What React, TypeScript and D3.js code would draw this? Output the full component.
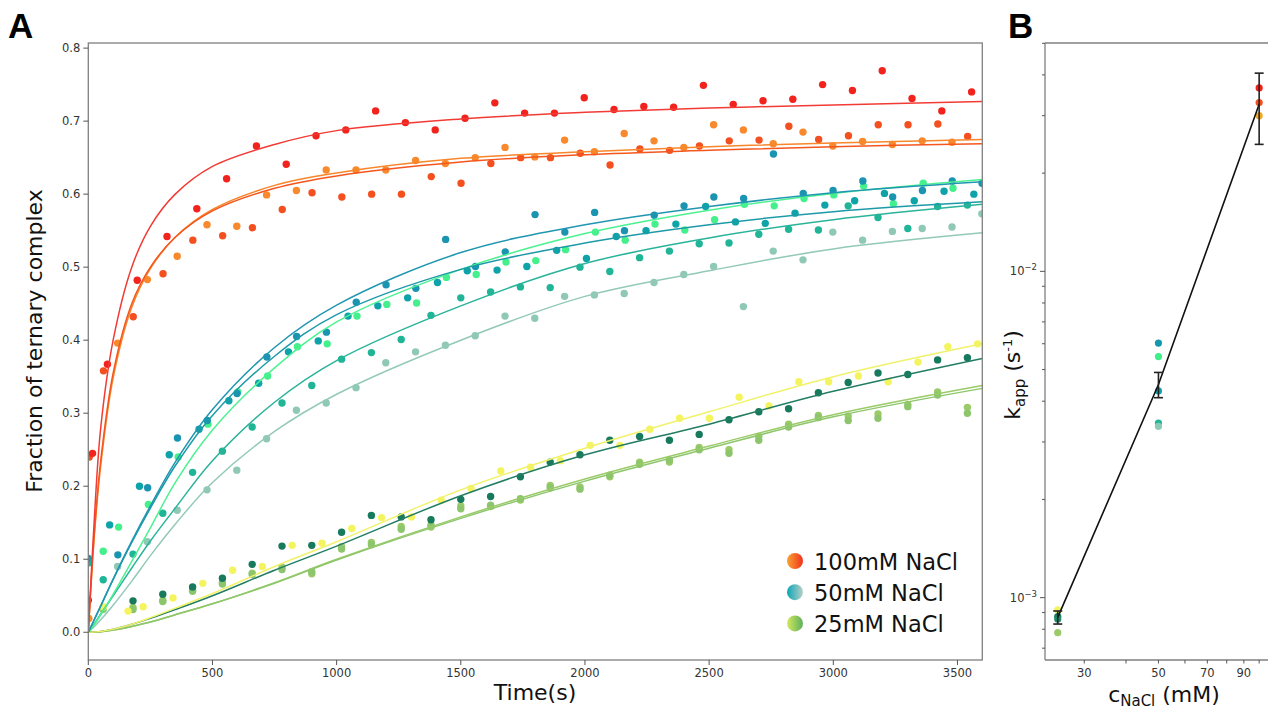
import React from 'react';
import * as d3 from 'd3';

const WIDTH = 1268;
const HEIGHT = 711;
const FONT = 'DejaVu Sans, Verdana, sans-serif';

// readings every 120 s after the first ones
const STEP = 120;

// knot times (s) of the fitted curves
const fitTimes = [0, 25, 50, 100, 175, 250, 350, 500, 750, 1000, 1500, 2000, 2500, 3000, 3600];

// ---- 100 mM NaCl ----
const red100Early = [[17, 0.245]];
const red100Start = 77;
const red100 = [0.367, 0.482, 0.542, 0.580, 0.621, 0.666, 0.641, 0.680, 0.688, 0.714, 0.698, 0.688, 0.704, 0.725, 0.711,
  0.711, 0.732, 0.716, 0.720, 0.719, 0.749, 0.723, 0.728, 0.730, 0.750, 0.742, 0.769, 0.731, 0.714, 0.740];
const red100Fit = [0, 0.16, 0.28, 0.40, 0.50, 0.556, 0.600, 0.638, 0.668, 0.687, 0.703, 0.712, 0.718, 0.722, 0.727];

const ored100Early = [[4, 0.240]];
const ored100Start = 61;
const ored100 = [0.358, 0.432, 0.491, 0.537, 0.543, 0.554, 0.579, 0.602, 0.596, 0.600, 0.600, 0.624, 0.615, 0.642, 0.650,
  0.650, 0.656, 0.640, 0.662, 0.660, 0.666, 0.673, 0.674, 0.693, 0.675, 0.680, 0.695, 0.695, 0.696, 0.679];
const ored100Fit = [0, 0.14, 0.235, 0.355, 0.45, 0.50, 0.541, 0.577, 0.608, 0.625, 0.644, 0.654, 0.660, 0.665, 0.669];

const orange100Early = [[2, 0.019]];
const orange100Start = 118;
const orange100 = [0.396, 0.483, 0.515, 0.558, 0.556, 0.599, 0.605, 0.633, 0.633, 0.633, 0.646, 0.642, 0.650, 0.664, 0.651,
  0.674, 0.658, 0.683, 0.673, 0.664, 0.695, 0.688, 0.669, 0.685, 0.666, 0.672, 0.668, 0.673, 0.671];
const orange100Fit = [0, 0.135, 0.228, 0.348, 0.445, 0.498, 0.541, 0.579, 0.612, 0.629, 0.649, 0.658, 0.665, 0.670, 0.675];

// ---- 50 mM NaCl ----
const blueA50Early: number[][] = [];
const blueA50Start = 119;
const blueA50 = [0.106, 0.198, 0.266, 0.290, 0.327, 0.377, 0.405, 0.411, 0.452, 0.476, 0.471, 0.538, 0.501, 0.521, 0.572,
  0.548, 0.575, 0.550, 0.571, 0.584, 0.596, 0.594, 0.655, 0.601, 0.605, 0.618, 0.596, 0.605, 0.618, 0.615];
const blueA50Fit = [0, 0.018, 0.036, 0.073, 0.125, 0.173, 0.233, 0.305, 0.39, 0.448, 0.52, 0.558, 0.583, 0.602, 0.617];

const blueB50Early = [[0, 0.101]];
const blueB50Start = 86;
const blueB50 = [0.147, 0.200, 0.243, 0.278, 0.317, 0.341, 0.384, 0.399, 0.433, 0.447, 0.458, 0.479, 0.495, 0.496, 0.501,
  0.523, 0.512, 0.542, 0.550, 0.559, 0.583, 0.562, 0.560, 0.574, 0.585, 0.591, 0.601, 0.591, 0.604, 0.600];
const blueB50Fit = [0, 0.018, 0.036, 0.072, 0.123, 0.17, 0.228, 0.297, 0.378, 0.435, 0.497, 0.533, 0.558, 0.576, 0.5895];

const green50Early = [[60, 0.111]];
const green50Start = 122;
const green50 = [0.144, 0.175, 0.240, 0.285, 0.329, 0.351, 0.391, 0.395, 0.433, 0.449, 0.451, 0.486, 0.490, 0.507, 0.509,
  0.524, 0.548, 0.537, 0.559, 0.551, 0.565, 0.586, 0.584, 0.594, 0.599, 0.611, 0.587, 0.615, 0.608];
const green50Fit = [0, 0.011, 0.024, 0.052, 0.097, 0.143, 0.205, 0.277, 0.362, 0.425, 0.497, 0.546, 0.578, 0.601, 0.620];

const teal50Early = [[0, 0.095]];
const teal50Start = 60;
const teal50 = [0.072, 0.107, 0.163, 0.219, 0.248, 0.281, 0.314, 0.338, 0.374, 0.383, 0.401, 0.434, 0.458, 0.466, 0.473,
  0.472, 0.500, 0.494, 0.513, 0.522, 0.532, 0.533, 0.545, 0.552, 0.551, 0.584, 0.568, 0.553, 0.583, 0.585];
const teal50Fit = [0, 0.012, 0.025, 0.05, 0.088, 0.125, 0.17, 0.235, 0.315, 0.372, 0.447, 0.505, 0.54, 0.565, 0.586];

const pale50Early: number[][] = [];
const pale50Start = 118;
const pale50 = [0.090, 0.124, 0.167, 0.195, 0.222, 0.265, 0.304, 0.314, 0.335, 0.369, 0.384, 0.393, 0.406, 0.433, 0.430,
  0.460, 0.462, 0.464, 0.479, 0.490, 0.501, 0.446, 0.522, 0.510, 0.548, 0.537, 0.549, 0.553, 0.555, 0.573];
const pale50Fit = [0, 0.008, 0.017, 0.037, 0.07, 0.105, 0.148, 0.205, 0.275, 0.326, 0.40, 0.46, 0.495, 0.525, 0.547];

// ---- 25 mM NaCl ----
const yellow25Early = [[60, 0.035], [160, 0.029]];
const yellow25Start = 221;
const yellow25 = [0.035, 0.047, 0.067, 0.085, 0.090, 0.119, 0.122, 0.142, 0.157, 0.158, 0.181, 0.197, 0.221, 0.226, 0.235,
  0.256, 0.256, 0.278, 0.293, 0.293, 0.322, 0.310, 0.343, 0.343, 0.351, 0.343, 0.370, 0.391, 0.395];
const yellow25Fit = [0, 0.0003, 0.001, 0.004, 0.011, 0.02, 0.033, 0.053, 0.09, 0.124, 0.195, 0.252, 0.302, 0.35, 0.395];

const dark25Early = [[0, 0.044]];
const dark25Start = 180;
const dark25 = [0.043, 0.052, 0.062, 0.074, 0.093, 0.118, 0.119, 0.137, 0.160, 0.158, 0.154, 0.182, 0.186, 0.213, 0.233,
  0.243, 0.263, 0.268, 0.263, 0.271, 0.291, 0.302, 0.306, 0.328, 0.342, 0.355, 0.353, 0.373, 0.376];
const dark25Fit = [0, 0.0003, 0.001, 0.004, 0.011, 0.019, 0.031, 0.05, 0.085, 0.118, 0.187, 0.243, 0.285, 0.33, 0.375];

const lime25Early = [[60, 0.031]];
const lime25Start = 180;
const lime25 = [0.034, 0.044, 0.058, 0.068, 0.081, 0.089, 0.080, 0.117, 0.123, 0.145, 0.144, 0.173, 0.172, 0.181, 0.201,
  0.199, 0.213, 0.233, 0.233, 0.253, 0.250, 0.268, 0.285, 0.297, 0.296, 0.299, 0.312, 0.329, 0.308];
const lime25Fit = [0, 0.0002, 0.0008, 0.003, 0.008, 0.014, 0.024, 0.039, 0.068, 0.1, 0.158, 0.21, 0.255, 0.298, 0.338];

const sage25Early: number[][] = [];
const sage25Start = 180;
const sage25 = [0.031, 0.042, 0.056, 0.066, 0.079, 0.086, 0.083, 0.114, 0.120, 0.141, 0.147, 0.169, 0.174, 0.183, 0.198,
  0.196, 0.215, 0.230, 0.236, 0.250, 0.245, 0.263, 0.281, 0.294, 0.290, 0.293, 0.309, 0.325, 0.300];
const sage25Fit = [0, 0.0002, 0.0008, 0.003, 0.008, 0.014, 0.024, 0.039, 0.067, 0.099, 0.156, 0.207, 0.252, 0.295, 0.334];

// legend
const legendLabels = ['100mM NaCl', '50mM NaCl', '25mM NaCl'];
const legendStops = [['#f9a332', '#f0321e'], ['#0aa7b8', '#b8cfc6'], ['#d3e95e', '#5caf5c']];

// ---- panel B: apparent rates ----
const saltConc = [25, 50, 100];
const kMean = [0.00087, 0.0045, 0.0325];
const kErr = [0.00004, 0.0004, 0.008];
const kRuns25 = [0.000917, 0.000875, 0.000781, 0.00086];
const kRuns50 = [0.00603, 0.00548, 0.0043, 0.00343, 0.00335];
const kRuns100 = [0.0365, 0.0329, 0.0300];
const kColors25 = ['#f2f55c', '#177a5c', '#9acb68', '#1e8a6a'];
const kColors50 = ['#1597ae', '#3ff08a', '#0ea3a8', '#21b597', '#8fc9b5'];
const kColors100 = ['#f2221c', '#f4501f', '#f2a822'];

const xTicksA = [0, 500, 1000, 1500, 2000, 2500, 3000, 3500];
const yTicksA = [0, 0.1, 0.2, 0.3, 0.4, 0.5, 0.6, 0.7, 0.8];
const xTicksB = [30, 40, 50, 60, 70, 80, 90, 100];
const xLabelsB = [30, 50, 70, 90];

type Series = { dot: string; line: string; early: number[][]; start: number; values: number[]; fit: number[] };

const seriesA: Series[] = [
  { dot: '#9acb68', line: '#9acb68', early: lime25Early, start: lime25Start, values: lime25, fit: lime25Fit },
  { dot: '#8cc56c', line: '#8ec66c', early: sage25Early, start: sage25Start, values: sage25, fit: sage25Fit },
  { dot: '#177a5c', line: '#227d62', early: dark25Early, start: dark25Start, values: dark25, fit: dark25Fit },
  { dot: '#f4f45e', line: '#f1f26a', early: yellow25Early, start: yellow25Start, values: yellow25, fit: yellow25Fit },
  { dot: '#8fc9b5', line: '#93c9b8', early: pale50Early, start: pale50Start, values: pale50, fit: pale50Fit },
  { dot: '#21b597', line: '#2ab39a', early: teal50Early, start: teal50Start, values: teal50, fit: teal50Fit },
  { dot: '#44f08c', line: '#4cf291', early: green50Early, start: green50Start, values: green50, fit: green50Fit },
  { dot: '#0ea3a8', line: '#1d9aa8', early: blueB50Early, start: blueB50Start, values: blueB50, fit: blueB50Fit },
  { dot: '#1a94b0', line: '#2196b0', early: blueA50Early, start: blueA50Start, values: blueA50, fit: blueA50Fit },
  { dot: '#f8892c', line: '#f8862a', early: orange100Early, start: orange100Start, values: orange100, fit: orange100Fit },
  { dot: '#f4501f', line: '#f5561e', early: ored100Early, start: ored100Start, values: ored100, fit: ored100Fit },
  { dot: '#f2221c', line: '#f23b35', early: red100Early, start: red100Start, values: red100, fit: red100Fit },
];

const xA = d3.scaleLinear().domain([0, 3600]).range([88.3, 982.3]);
const yA = d3.scaleLinear().domain([-0.038, 0.807]).range([660, 43]);
const xB = d3.scaleLog().domain([22.9, 110]).range([1045, 1273]);
const yB = d3.scaleLog().domain([0.000644, 0.0501]).range([660, 43]);

const fitPath = d3.line<number>()
  .x((_, i) => xA(fitTimes[i]))
  .y(v => yA(v))
  .curve(d3.curveCatmullRom.alpha(0.5));

const meanPath = d3.line<number>()
  .x((_, i) => xB(saltConc[i]))
  .y(v => yB(v));

function readings(s: Series) {
  const pts = s.early.map(([t, v]) => [t, v]);
  s.values.forEach((v, i) => pts.push([s.start + STEP * i, v]));
  return pts;
}

const tickColor = '#555';
const labelColor = '#333';
const frameColor = '#7f7f7f';

export default function App() {
  const [aL, aR] = xA.range();
  const [aB, aT] = yA.range();
  const bL = 1045;
  const runsB = [
    { c: saltConc[0], vals: kRuns25, cols: kColors25 },
    { c: saltConc[1], vals: kRuns50, cols: kColors50 },
    { c: saltConc[2], vals: kRuns100, cols: kColors100 },
  ];
  const yMinorB = yB.ticks().filter(t => t >= 0.000644 && t <= 0.0501);

  return (
    <svg width={WIDTH} height={HEIGHT} style={{ position: 'absolute', left: 0, top: 0, background: '#fff' }}
      fontFamily={FONT}>
      <defs>
        <clipPath id="clipA"><rect x={aL} y={aT} width={aR - aL} height={aB - aT} /></clipPath>
        {legendStops.map((s, i) => (
          <linearGradient key={i} id={`lg${i}`} x1="0" x2="1" y1="0" y2="0">
            <stop offset="0" stopColor={s[0]} />
            <stop offset="1" stopColor={s[1]} />
          </linearGradient>
        ))}
      </defs>
      <rect x={0} y={0} width={WIDTH} height={HEIGHT} fill="#fff" />

      {/* ---------- panel A ---------- */}
      <text x={8} y={38} fontFamily="Liberation Sans, Arial, sans-serif" fontWeight="bold" fontSize={35}>A</text>
      <g clipPath="url(#clipA)">
        {seriesA.map((s, si) => (
          <g key={si}>
            {readings(s).map(([t, v], i) => (
              <circle key={i} cx={xA(t)} cy={yA(v)} r={3.7} fill={s.dot} />
            ))}
          </g>
        ))}
        {seriesA.map((s, si) => (
          <path key={si} d={fitPath(s.fit) || ''} fill="none" stroke={s.line} strokeWidth={1.5} />
        ))}
      </g>
      <rect x={aL} y={aT} width={aR - aL} height={aB - aT} fill="none" stroke={frameColor} strokeWidth={1.3} />
      {xTicksA.map(t => (
        <g key={t}>
          <line x1={xA(t)} x2={xA(t)} y1={aB} y2={aB + 5} stroke={tickColor} />
          <text x={xA(t)} y={677} textAnchor="middle" fontSize={11.5} fill={labelColor}>{t}</text>
        </g>
      ))}
      {yTicksA.map(t => (
        <g key={t}>
          <line x1={aL - 5} x2={aL} y1={yA(t)} y2={yA(t)} stroke={tickColor} />
          <text x={aL - 8} y={yA(t) + 4} textAnchor="end" fontSize={11.5} fill={labelColor}>{d3.format('.1f')(t)}</text>
        </g>
      ))}
      <text x={535} y={700} textAnchor="middle" fontSize={22} fill="#111">Time(s)</text>
      <text transform="translate(42,341) rotate(-90)" textAnchor="middle" fontSize={22} fill="#111">
        Fraction of ternary complex
      </text>

      {legendLabels.map((lab, i) => (
        <g key={lab}>
          <circle cx={795} cy={561 + i * 31.2} r={8} fill={`url(#lg${i})`} />
          <text x={814} y={569.5 + i * 31.2} fontSize={22.5} fill="#111">{lab}</text>
        </g>
      ))}

      {/* ---------- panel B ---------- */}
      <text x={1008} y={38} fontFamily="Liberation Sans, Arial, sans-serif" fontWeight="bold" fontSize={35}>B</text>
      {runsB.map(r => r.vals.map((v, i) => (
        <circle key={`${r.c}-${i}`} cx={xB(r.c)} cy={yB(v)} r={3.6} fill={r.cols[i]} />
      )))}
      <path d={meanPath(kMean) || ''} fill="none" stroke="#111" strokeWidth={1.6} />
      {saltConc.map((c, i) => {
        const x = xB(c);
        const y1 = yB(kMean[i] - kErr[i]);
        const y2 = yB(kMean[i] + kErr[i]);
        return (
          <g key={c} stroke="#222" strokeWidth={1.6}>
            <line x1={x} x2={x} y1={y1} y2={y2} />
            <line x1={x - 4.5} x2={x + 4.5} y1={y1} y2={y1} />
            <line x1={x - 4.5} x2={x + 4.5} y1={y2} y2={y2} />
          </g>
        );
      })}
      <line x1={bL} x2={bL} y1={43} y2={660} stroke={frameColor} strokeWidth={1.3} />
      <line x1={bL} x2={1273} y1={43} y2={43} stroke={frameColor} strokeWidth={1.3} />
      <line x1={bL} x2={1273} y1={660} y2={660} stroke={frameColor} strokeWidth={1.3} />
      {yMinorB.map(t => {
        const major = Math.abs(Math.log10(t) - Math.round(Math.log10(t))) < 1e-6;
        return (
          <line key={t} x1={bL - (major ? 5 : 3)} x2={bL} y1={yB(t)} y2={yB(t)} stroke={tickColor} />
        );
      })}
      {[0.001, 0.01].map(t => (
        <text key={t} x={bL - 8} y={yB(t) + 4} textAnchor="end" fontSize={11.5} fill={labelColor}>
          10<tspan dy={-5} fontSize={8.5}>{`−${Math.round(-Math.log10(t))}`}</tspan>
        </text>
      ))}
      {xTicksB.map(t => (
        <line key={t} x1={xB(t)} x2={xB(t)} y1={660} y2={663.5} stroke={tickColor} />
      ))}
      {xLabelsB.map(t => (
        <text key={t} x={xB(t)} y={677} textAnchor="middle" fontSize={11.5} fill={labelColor}>{t}</text>
      ))}
      <text x={1164} y={702} textAnchor="middle" fontSize={22} fill="#111">
        c<tspan dy={4} fontSize={15}>NaCl</tspan><tspan dy={-4}> (mM)</tspan>
      </text>
      <text transform="translate(1020,375) rotate(-90)" textAnchor="middle" fontSize={22} fill="#111">
        k<tspan dy={5} fontSize={15}>app</tspan><tspan dy={-5}> (s</tspan><tspan dy={-8} fontSize={13}>-1</tspan><tspan dy={8}>)</tspan>
      </text>
    </svg>
  );
}
